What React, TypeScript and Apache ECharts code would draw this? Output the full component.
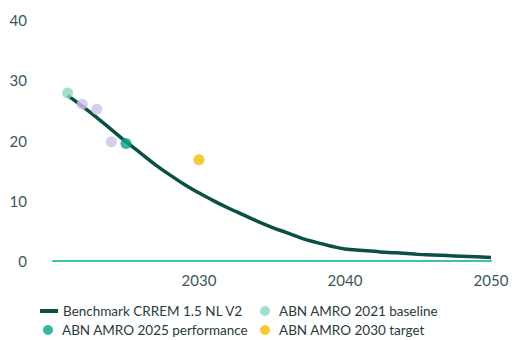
import React, { useEffect, useRef } from "react";
import * as echarts from "echarts";

const years = [2021, 2022, 2023, 2024, 2025, 2026, 2027, 2028, 2029, 2030, 2031, 2032, 2033, 2034, 2035, 2036, 2037, 2038, 2039, 2040, 2041, 2042, 2043, 2044, 2045, 2046, 2047, 2048, 2049, 2050];
const benchmark = [27.5, 25.7, 23.8, 21.8, 19.8, 17.9, 16.0, 14.3, 12.7, 11.3, 10.0, 8.8, 7.7, 6.6, 5.6, 4.7, 3.8, 3.1, 2.5, 2.0, 1.8, 1.6, 1.4, 1.3, 1.1, 1.0, 0.9, 0.8, 0.7, 0.6];
const baseline2021: [number, number][] = [[2021, 27.9]];
const interim: [number, number][] = [[2022, 26.0], [2023, 25.2], [2024, 19.8]];
const performance2025: [number, number][] = [[2025, 19.5]];
const target2030: [number, number][] = [[2030, 16.8]];

const FONT = "Lato";
const TEXT = "#3b5757";
const LEG_TEXT = { color: "#2a3b3b", fontSize: 13.5, fontFamily: FONT };

export default function App() {
  const ref = useRef<HTMLDivElement>(null);
  useEffect(() => {
    const chart = echarts.init(ref.current!, null, { renderer: "svg" });
    const circleLegend = (name: string, left: number, top: number) => ({
      left,
      top,
      orient: "horizontal",
      itemWidth: 10,
      itemHeight: 10,
      itemGap: 0,
      padding: 0,
      textStyle: { ...LEG_TEXT, padding: [0, 0, 0, 4] },
      data: [{ name, icon: "circle" }],
    });
    chart.setOption({
      animation: false,
      textStyle: { fontFamily: FONT },
      grid: { left: 53, right: 21, top: 20, bottom: 79 },
      xAxis: {
        type: "value",
        min: 2020,
        max: 2050,
        interval: 10,
        axisLine: { show: true, lineStyle: { color: "#3fc2aa", width: 2 } },
        axisTick: { show: false },
        splitLine: { show: false },
        axisLabel: {
          color: TEXT,
          fontSize: 15,
          fontFamily: FONT,
          margin: 11,
          formatter: (v: number) => (v === 2020 ? "" : String(v)),
        },
      },
      yAxis: {
        type: "value",
        min: 0,
        max: 40,
        interval: 10,
        axisLine: { show: false },
        axisTick: { show: false },
        splitLine: { show: false },
        axisLabel: { color: TEXT, fontSize: 15, fontFamily: FONT, margin: 26 },
      },
      legend: [
        {
          left: 40,
          top: 304,
          itemWidth: 18,
          itemHeight: 4,
          padding: 0,
          textStyle: { ...LEG_TEXT, padding: [0, 0, 0, 0] },
          data: [{ name: "Benchmark CRREM 1.5 NL V2", icon: "rect", itemStyle: { color: "#0b4f45" } }],
        },
        circleLegend("ABN AMRO 2025 performance", 43, 323),
        circleLegend("ABN AMRO 2021 baseline", 260, 304),
        circleLegend("ABN AMRO 2030 target", 260, 323),
      ],
      series: [
        {
          name: "Benchmark CRREM 1.5 NL V2",
          type: "line",
          smooth: true,
          showSymbol: false,
          data: years.map((y, i) => [y, benchmark[i]]),
          lineStyle: { color: "#0b4f45", width: 3.5 },
          itemStyle: { color: "#0b4f45" },
          z: 2,
        },
        {
          name: "interim",
          type: "scatter",
          symbolSize: 11,
          data: interim,
          itemStyle: { color: "#cbc3e6" },
          z: 3,
        },
        {
          name: "ABN AMRO 2021 baseline",
          type: "scatter",
          symbolSize: 11,
          data: baseline2021,
          itemStyle: { color: "#8fd5c8" },
          z: 3,
        },
        {
          name: "ABN AMRO 2025 performance",
          type: "scatter",
          symbolSize: 11,
          data: performance2025,
          itemStyle: { color: "#08a08d" },
          z: 3,
        },
        {
          name: "ABN AMRO 2030 target",
          type: "scatter",
          symbolSize: 11,
          data: target2030,
          itemStyle: { color: "#f4bd00" },
          z: 3,
        },
      ],
    });
    return () => chart.dispose();
  }, []);
  return <div ref={ref} style={{ width: 512, height: 340, position: "absolute", left: 0, top: 0 }} />;
}
